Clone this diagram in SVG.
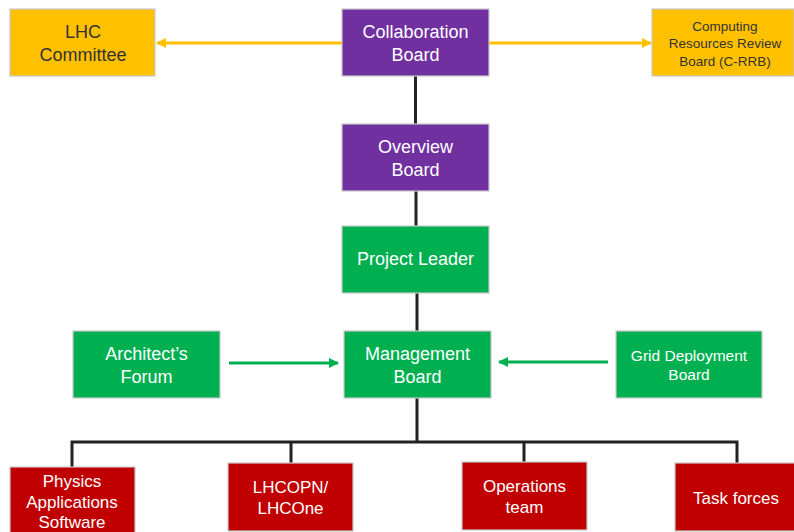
<svg xmlns="http://www.w3.org/2000/svg" width="794" height="532" viewBox="0 0 794 532">
<defs>
<style>
.box{stroke:#c8c8c8;stroke-width:1.2}
.y{fill:#FFC000}
.p{fill:#7030A0}
.g{fill:#00B050}
.r{fill:#C00000}
text{font-family:"Liberation Sans",Arial,sans-serif;text-anchor:middle}
.w{fill:#ffffff}
.d{fill:#333333}
.f18{font-size:18px}
.f17{font-size:17px}
.f15{font-size:15.5px}
.f13{font-size:13.5px}
.conn{fill:none;stroke:#222222;stroke-width:3}
.ya{fill:none;stroke:#FFC000;stroke-width:3}
.ga{fill:none;stroke:#00B050;stroke-width:3}
</style>
<marker id="ay" viewBox="0 0 10 10" refX="9" refY="5" markerWidth="3.5" markerHeight="3.5" orient="auto"><path d="M0,0 L10,5 L0,10 z" fill="#FFC000"/></marker>
<marker id="ag" viewBox="0 0 10 10" refX="9" refY="5" markerWidth="3.5" markerHeight="3.5" orient="auto"><path d="M0,0 L10,5 L0,10 z" fill="#00B050"/></marker>
</defs>
<rect width="794" height="532" fill="#ffffff"/>
<g id="connectors">
<line class="ya" x1="342" y1="43" x2="157" y2="43" marker-end="url(#ay)"/>
<line class="ya" x1="489" y1="43" x2="651" y2="43" marker-end="url(#ay)"/>
<line class="conn" x1="415.5" y1="76" x2="415.5" y2="124"/>
<line class="conn" x1="416" y1="191" x2="416" y2="226"/>
<line class="conn" x1="417" y1="293" x2="417" y2="331"/>
<line class="ga" x1="229" y1="363" x2="338" y2="363" marker-end="url(#ag)"/>
<line class="ga" x1="608" y1="362" x2="499" y2="362" marker-end="url(#ag)"/>
<path class="conn" d="M417,398 V442 M72,467 V442 H737 V463 M291,442 V463 M524,442 V462"/>
</g>
<g id="lhc-committee"><rect class="box y" x="10" y="9" width="145" height="67"/><text class="d f18" x="83" y="38">LHC</text><text class="d f18" x="83" y="61">Committee</text></g>
<g id="collaboration-board"><rect class="box p" x="342" y="9" width="147" height="67"/><text class="w f18" x="415.5" y="38">Collaboration</text><text class="w f18" x="415.5" y="61">Board</text></g>
<g id="crrb"><rect class="box y" x="652" y="9" width="142" height="67"/><text class="d f13" x="725" y="31">Computing</text><text class="d f13" x="725" y="48">Resources Review</text><text class="d f13" x="725" y="66">Board (C-RRB)</text></g>
<g id="overview-board"><rect class="box p" x="342" y="124" width="147" height="67"/><text class="w f18" x="415.5" y="153">Overview</text><text class="w f18" x="415.5" y="176">Board</text></g>
<g id="project-leader"><rect class="box g" x="342" y="226" width="147" height="67"/><text class="w f18" x="415.5" y="265">Project Leader</text></g>
<g id="architects-forum"><rect class="box g" x="73" y="331" width="147" height="67"/><text class="w f18" x="146.5" y="360">Architect’s</text><text class="w f18" x="146.5" y="383">Forum</text></g>
<g id="management-board"><rect class="box g" x="344" y="331" width="147" height="67"/><text class="w f18" x="417.5" y="360">Management</text><text class="w f18" x="417.5" y="383">Board</text></g>
<g id="grid-deployment-board"><rect class="box g" x="616" y="331" width="146" height="67"/><text class="w f15" x="689" y="361">Grid Deployment</text><text class="w f15" x="689" y="380">Board</text></g>
<g id="physics-applications-software"><rect class="box r" x="10" y="467" width="125" height="70"/><text class="w f17" x="72" y="487">Physics</text><text class="w f17" x="72" y="508">Applications</text><text class="w f17" x="72" y="528">Software</text></g>
<g id="lhcopn"><rect class="box r" x="228" y="463" width="125" height="68"/><text class="w f17" x="290.5" y="493">LHCOPN/</text><text class="w f17" x="290.5" y="514">LHCOne</text></g>
<g id="operations-team"><rect class="box r" x="462" y="462" width="125" height="68"/><text class="w f17" x="524.5" y="492">Operations</text><text class="w f17" x="524.5" y="513">team</text></g>
<g id="task-forces"><rect class="box r" x="675" y="463" width="125" height="68"/><text class="w f17" x="736" y="504">Task forces</text></g>
</svg>
